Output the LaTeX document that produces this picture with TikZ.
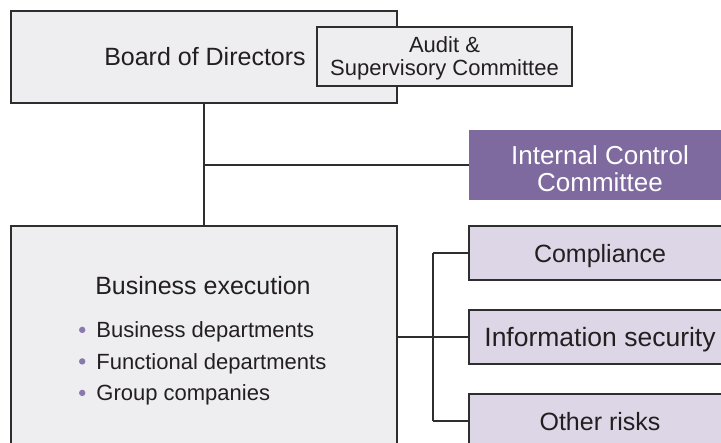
\documentclass[tikz,border=0pt]{standalone}
\usepackage{fontspec}
\setmainfont{Liberation Sans}
\definecolor{boxgray}{HTML}{EEEEF0}
\definecolor{edge}{HTML}{2E2E2E}
\definecolor{inkc}{HTML}{231F20}
\definecolor{icpurple}{HTML}{7F6A9F}
\definecolor{lilac}{HTML}{DDD6E6}
\definecolor{bulletc}{HTML}{8A7AAC}
\tikzset{
  every node/.style={inner sep=0pt, outer sep=0pt, text=inkc},
  graybox/.style={draw=edge, line width=1.3pt, fill=boxgray},
  riskbox/.style={draw=edge, line width=1.3pt, fill=lilac, text depth=0pt,
    minimum width=262pt, minimum height=54pt, font=\fontsize{25}{30}\selectfont},
  link/.style={draw=edge, line width=1.3pt},
}
\newcommand{\purplebullet}{\textcolor{bulletc}{\raisebox{0.22em}{\tikz\fill (0,0) circle (3.2pt);}}\hspace{11pt}}
\begin{document}
\begin{tikzpicture}[x=1pt, y=-1pt]
\useasboundingbox (0,0) rectangle (721,443);
\clip (0,0) rectangle (721,443);
\fill[white] (0,0) rectangle (721,443);

% top tier: board and its committee
\node[graybox, minimum width=386pt, minimum height=92pt] (board) at (204,57) {};
\node[font=\fontsize{25}{30}\selectfont] (boardtxt) at (205,57) {Board of Directors};
\node[graybox, minimum width=255pt, minimum height=59pt, align=center, text depth=0pt,
      font=\fontsize{22}{23}\selectfont] (audit) at (444.5,56.5) {Audit \&\\Supervisory Committee};

% internal control committee
\node[fill=icpurple, minimum width=262pt, minimum height=70pt] (icc) at (600,165) {};
\node[align=center, text=white, font=\fontsize{26}{27}\selectfont] (icctxt) at (600,169)
  {Internal Control\\Committee};

% business execution
\node[graybox, minimum width=386pt, minimum height=234pt] (biz) at (204,343) {};
\node[font=\fontsize{25}{30}\selectfont] (biztitle) at (203,286) {Business execution};
\node[anchor=north west, align=left, font=\fontsize{22}{31.5}\selectfont] (bizlist) at (79,322)
  {\purplebullet Business departments\\ \purplebullet Functional departments\\ \purplebullet Group companies};

% risk areas
\node[riskbox] (comp) at (600,253) {Compliance};
\node[riskbox, font=\fontsize{26.5}{30}\selectfont] (info) at (600,337) {Information security};
\node[riskbox] (other) at (600,421) {Other risks};

% connectors
\draw[link] (board.south) -- (biz.north);
\draw[link] (board.south |- icc.west) -- (icc.west);
\coordinate (bus) at (433,337);
\draw[link] (biz.east |- info.west) -- (info.west);
\draw[link] (bus |- comp.west) -- (bus |- other.west);
\draw[link] (bus |- comp.west) -- (comp.west);
\draw[link] (bus |- other.west) -- (other.west);
\end{tikzpicture}
\end{document}
